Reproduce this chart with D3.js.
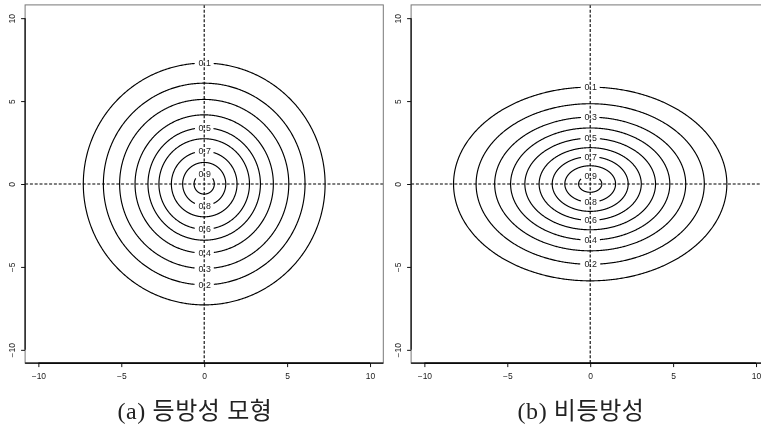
<!DOCTYPE html>
<html>
<head>
<meta charset="utf-8">
<script src="https://cdn.jsdelivr.net/npm/d3@7"></script>
<style>
  html, body { margin: 0; padding: 0; background: #fff; }
  svg { display: block; will-change: transform; }
</style>
</head>
<body>
<svg id="chart" width="761" height="428"></svg>
<script>
// Contour levels of the correlation surface
const levels = [0.1, 0.2, 0.3, 0.4, 0.5, 0.6, 0.7, 0.8, 0.9];

// Isotropic model: contour radius for each level
const isoRadius = [7.29, 6.08, 5.10, 4.17, 3.39, 2.73, 1.98, 1.30, 0.61];
// Anisotropic model: horizontal and vertical semi-axes for each level
const anisoRx = [8.24, 6.88, 5.76, 4.80, 3.94, 3.08, 2.29, 1.53, 0.70];
const anisoRy = [5.84, 4.84, 4.03, 3.38, 2.76, 2.19, 1.65, 1.10, 0.50];

// Where each contour carries its label
const isoLabelSide = ["top", "bottom", "bottom", "bottom", "top", "bottom", "top", "bottom", "top"];
const anisoLabelSide = ["top", "bottom", "top", "bottom", "top", "bottom", "top", "bottom", "top"];

const tickValues = [-10, -5, 0, 5, 10];
const axisDomain = [-10.8, 10.8];
const captions = ["(a) 등방성 모형", "(b) 비등방성"];

const svg = d3.select("#chart");

const panels = [
  { left: 25.1, rx: isoRadius, ry: isoRadius, sides: isoLabelSide, caption: captions[0], capX: 195 },
  { left: 411.1, rx: anisoRx, ry: anisoRy, sides: anisoLabelSide, caption: captions[1], capX: 581 }
];
const plotW = 358.2, plotTop = 4.9, plotH = 358.2;
const labelSize = 8.8;

const fmt = d => (d < 0 ? "\u2212" + Math.abs(d) : String(d));

// measure label widths once
const measure = svg.append("text").attr("font-family", "Liberation Sans, Arial, sans-serif").attr("font-size", labelSize).text("0.0");
const labelW = measure.node().getComputedTextLength();
measure.remove();

panels.forEach((p, pi) => {
  const x = d3.scaleLinear().domain(axisDomain).range([p.left, p.left + plotW]);
  const y = d3.scaleLinear().domain(axisDomain).range([plotTop + plotH, plotTop]);
  const g = svg.append("g");

  const clipId = "clip" + pi;
  svg.append("clipPath").attr("id", clipId)
    .append("rect").attr("x", p.left).attr("y", plotTop).attr("width", plotW).attr("height", plotH);
  const plot = g.append("g").attr("clip-path", `url(#${clipId})`);

  const angles = d3.range(0, 721).map(i => i / 720 * 2 * Math.PI);
  const halfW = labelW / 2 + 3, halfH = 4.5;

  levels.forEach((lev, i) => {
    const rx = p.rx[i], ry = p.ry[i];
    const lx = x(0), ly = y(p.sides[i] === "top" ? ry : -ry);
    const pts = angles.map(a => {
      const px = x(rx * Math.cos(a)), py = y(ry * Math.sin(a));
      const inGap = Math.abs(px - lx) < halfW && Math.abs(py - ly) < halfH;
      return [px, py, inGap];
    });
    const line = d3.line().defined(d => !d[2]).x(d => d[0]).y(d => d[1]);
    plot.append("path")
      .attr("d", line(pts))
      .attr("fill", "none")
      .attr("stroke", "#000")
      .attr("stroke-width", 1.15);
    plot.append("text")
      .attr("x", lx + 0.5).attr("y", ly)
      .attr("dy", "0.35em")
      .attr("text-anchor", "middle")
      .attr("font-family", "Liberation Sans, Arial, sans-serif")
      .attr("font-size", labelSize)
      .attr("fill", "#222")
      .text(lev.toFixed(1));
  });

  // dashed reference axes through the origin
  plot.append("line")
    .attr("x1", p.left).attr("x2", p.left + plotW)
    .attr("y1", y(0)).attr("y2", y(0))
    .attr("stroke", "#000").attr("stroke-width", 1.1).attr("stroke-dasharray", "3,1.8");
  plot.append("line")
    .attr("x1", x(0)).attr("x2", x(0))
    .attr("y1", plotTop).attr("y2", plotTop + plotH)
    .attr("stroke", "#000").attr("stroke-width", 1.1).attr("stroke-dasharray", "3,1.8");

  // frame
  g.append("rect")
    .attr("x", p.left).attr("y", plotTop).attr("width", plotW).attr("height", plotH)
    .attr("fill", "none").attr("stroke", "#777").attr("stroke-width", 1);
  g.append("line")
    .attr("x1", p.left).attr("x2", p.left + plotW)
    .attr("y1", plotTop + plotH).attr("y2", plotTop + plotH)
    .attr("stroke", "#000").attr("stroke-width", 1.2);

  // axes
  const xAxis = d3.axisBottom(x).tickValues(tickValues).tickSize(4).tickSizeOuter(0).tickFormat(fmt);
  const yAxis = d3.axisLeft(y).tickValues(tickValues).tickSize(4).tickSizeOuter(0).tickFormat(fmt);

  const gx = g.append("g").attr("transform", `translate(0,${plotTop + plotH})`).call(xAxis);
  gx.select(".domain").attr("d", `M${x(-10)},0H${x(10)}`).attr("stroke", "#000").attr("stroke-width", 1.2);
  gx.selectAll(".tick line").attr("stroke", "#111");
  gx.selectAll(".tick text")
    .attr("font-family", "Liberation Sans, Arial, sans-serif")
    .attr("font-size", 8.5).attr("fill", "#222")
    .attr("y", 10).attr("dy", "0.71em");

  const gy = g.append("g").attr("transform", `translate(${p.left},0)`).call(yAxis);
  gy.select(".domain").attr("d", `M0,${y(10)}V${y(-10)}`).attr("stroke", "#000").attr("stroke-width", 1.2);
  gy.selectAll(".tick line").attr("stroke", "#111");
  gy.selectAll(".tick text")
    .attr("font-family", "Liberation Sans, Arial, sans-serif")
    .attr("font-size", 8.5).attr("fill", "#222")
    .attr("x", null).attr("dy", null)
    .attr("text-anchor", "middle")
    .attr("transform", "translate(-10,0) rotate(-90)");

  // caption
  svg.append("text")
    .attr("x", p.capX).attr("y", 419)
    .attr("text-anchor", "middle")
    .attr("font-family", "Liberation Serif, Noto Sans CJK KR, serif")
    .attr("font-size", 24)
    .attr("letter-spacing", 0.6)
    .attr("fill", "#222")
    .text(p.caption);
});
</script>
</body>
</html>
